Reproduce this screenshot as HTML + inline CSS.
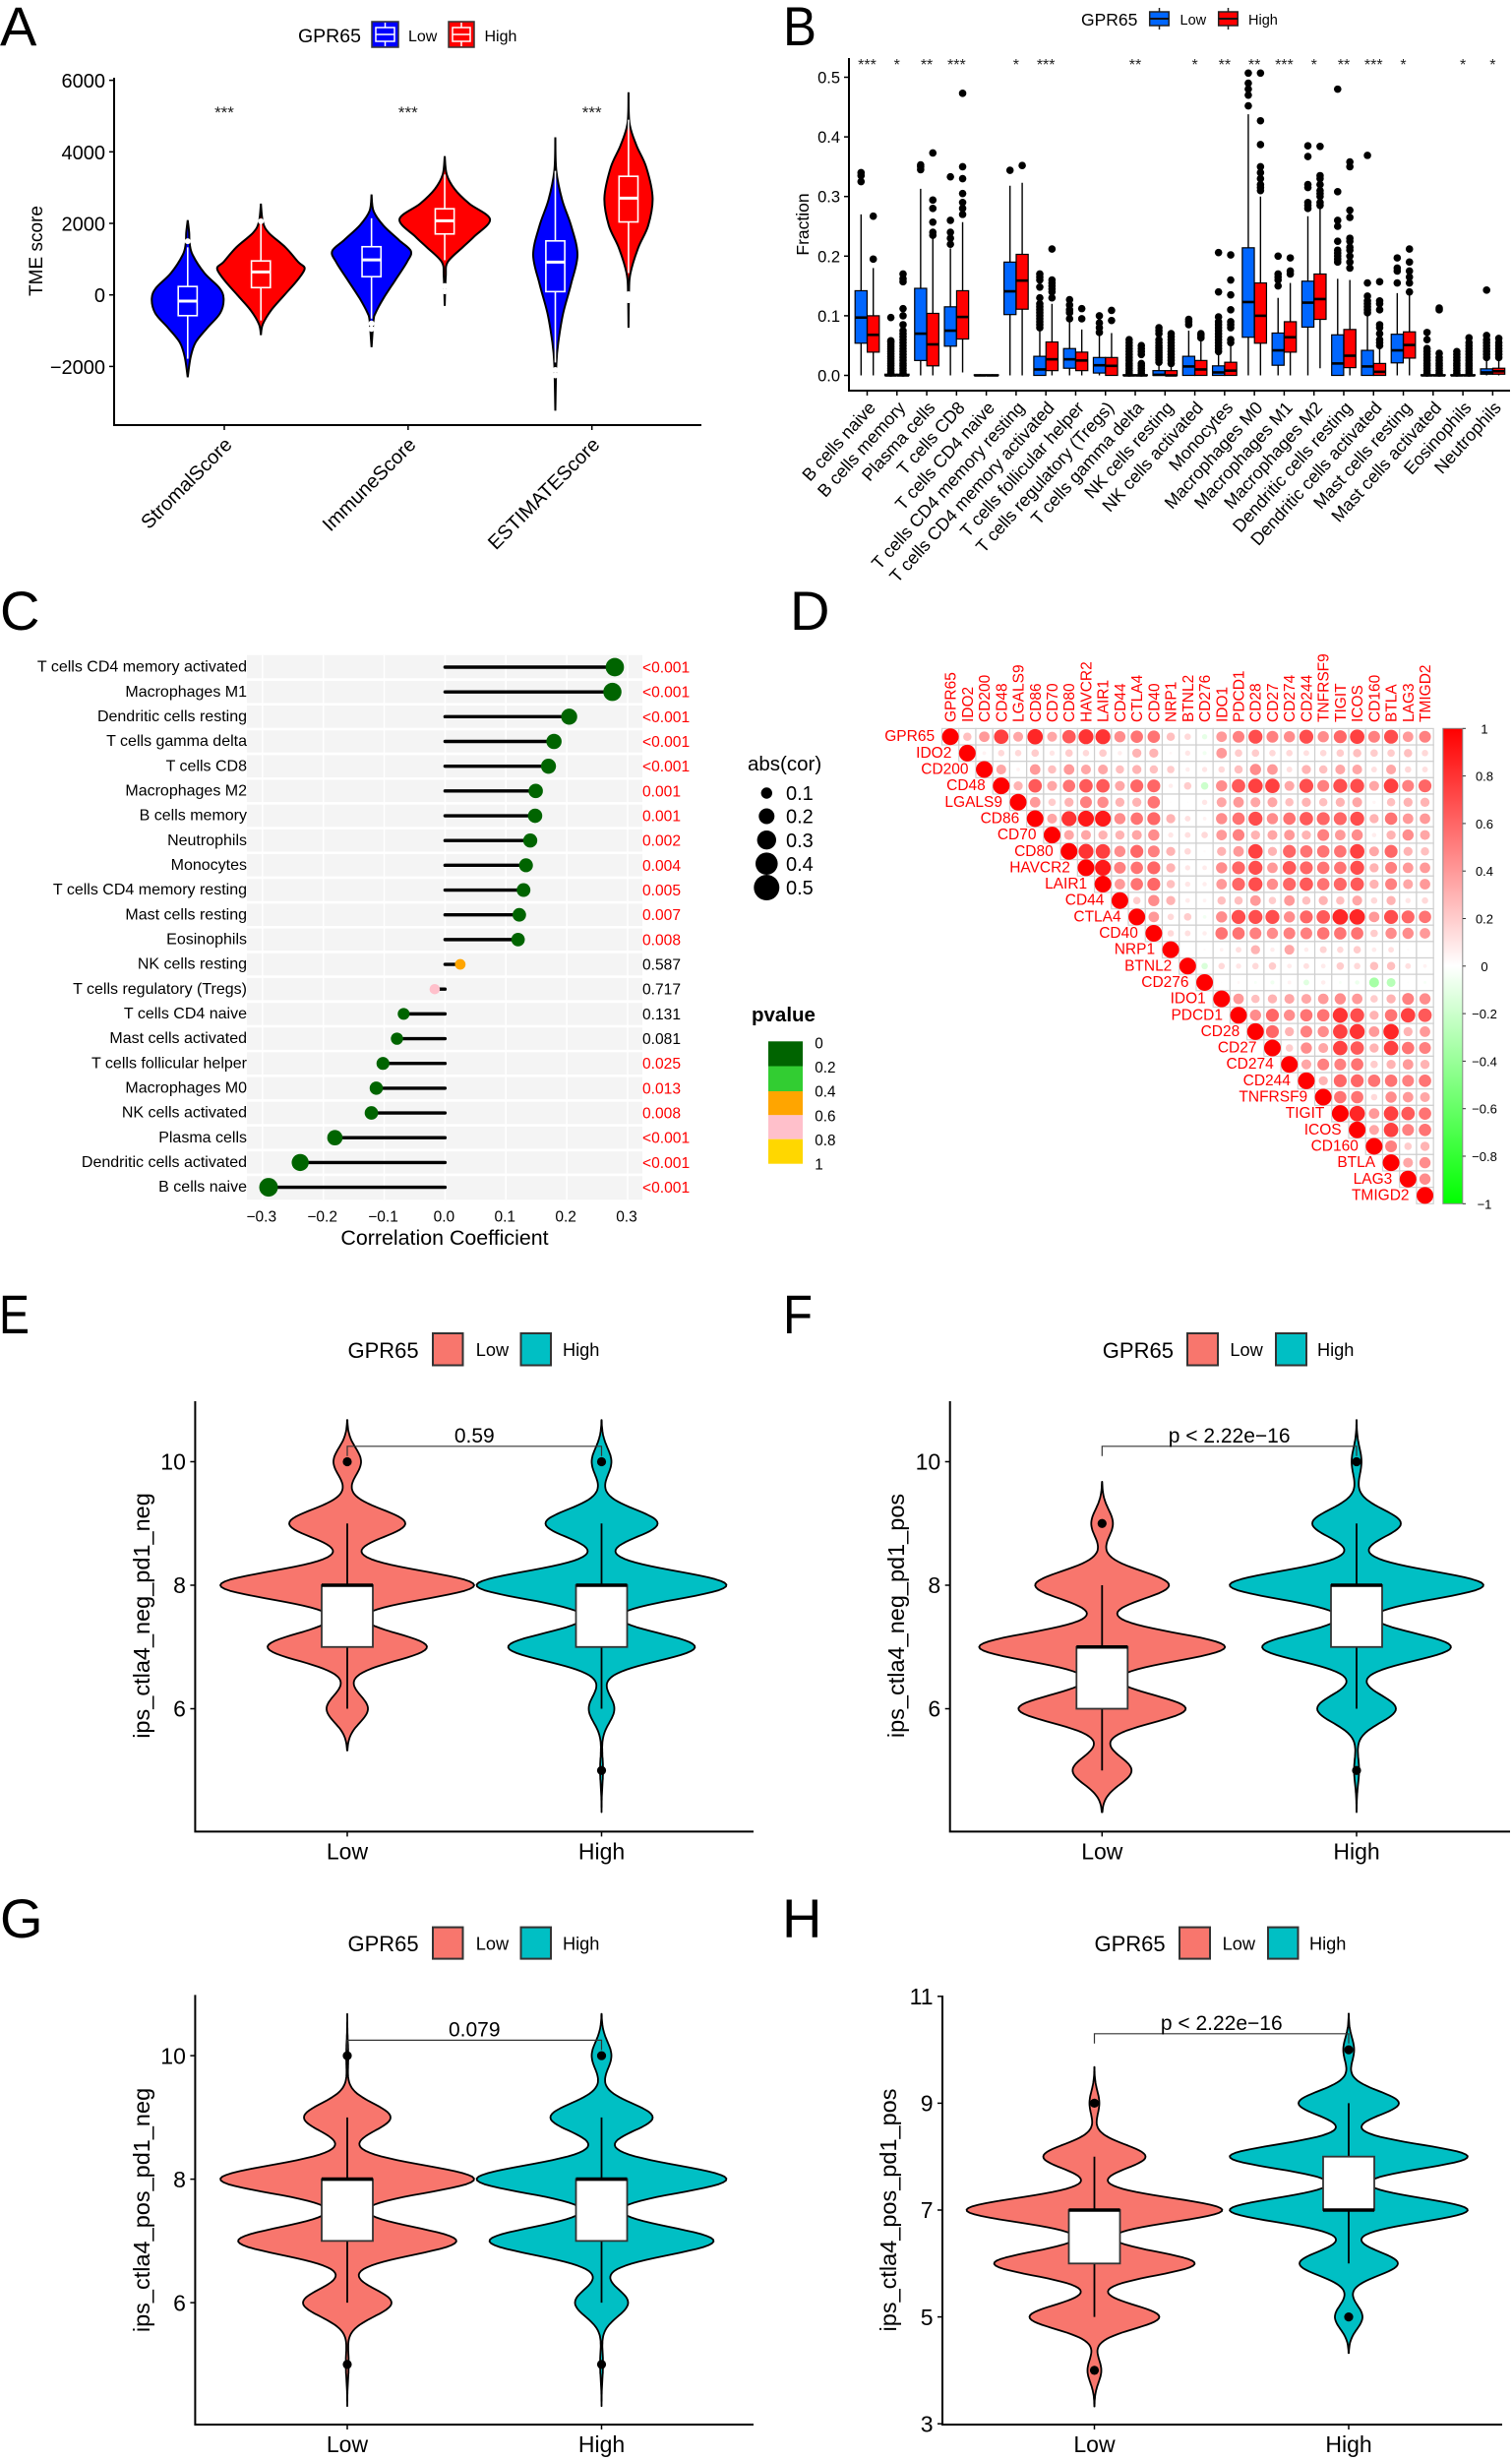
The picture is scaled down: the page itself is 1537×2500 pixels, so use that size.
<!DOCTYPE html>
<html lang="en">
<head>
<meta charset="utf-8">
<title>GPR65 immune figure</title>
<style>
html,body{margin:0;padding:0;background:#fff;}
svg{display:block;font-family:"Liberation Sans",Arial,sans-serif;}
.letter{font-size:56px;}
</style>
</head>
<body>
<svg id="chart" width="1537" height="2500" viewBox="0 0 1537 2500" xmlns="http://www.w3.org/2000/svg">
<defs>
<linearGradient id="corrGrad" x1="0" y1="0" x2="0" y2="1">
<stop offset="0" stop-color="#ff0000"/><stop offset="0.5" stop-color="#ffffff"/><stop offset="1" stop-color="#00ff00"/>
</linearGradient>
</defs>
<rect x="0" y="0" width="1537" height="2500" fill="#fff"/>

<!-- panel letters -->
<text class="letter" x="0" y="46">A</text>
<text class="letter" x="796" y="46" textLength="34" lengthAdjust="spacingAndGlyphs">B</text>
<text class="letter" x="0" y="640">C</text>
<text class="letter" x="803" y="640">D</text>
<text class="letter" x="-1" y="1355" textLength="31" lengthAdjust="spacingAndGlyphs">E</text>
<text class="letter" x="796" y="1355" textLength="30" lengthAdjust="spacingAndGlyphs">F</text>
<text class="letter" x="0" y="1969">G</text>
<text class="letter" x="795" y="1969">H</text>

<!-- panel A static -->
<g>
<text x="303" y="43" font-size="19.5">GPR65</text>
<rect x="378" y="22" width="27" height="26" fill="#0000ff" stroke="#333" stroke-width="1.5"/>
<path d="M391.5 23V28M391.5 42V47M382 28H401V42H382ZM382 35H401" fill="none" stroke="#fff" stroke-width="1.5"/>
<text x="415" y="42" font-size="16">Low</text>
<rect x="456" y="22" width="26" height="26" fill="#ff0000" stroke="#333" stroke-width="1.5"/>
<path d="M469 23V28M469 42V47M460 28H478V42H460ZM460 35H478" fill="none" stroke="#fff" stroke-width="1.5"/>
<text x="492.500" y="42" font-size="16">High</text>
</g>
<text transform="translate(43,255) rotate(-90)" text-anchor="middle" font-size="19">TME score</text>

<!-- panel B static -->
<g>
<text x="1099" y="26" font-size="17.500">GPR65</text>
<path d="M1178.500 8V30" stroke="#222" stroke-width="1.5"/>
<rect x="1168.700" y="12" width="19.500" height="14" fill="#0066ff" stroke="#222" stroke-width="1.5"/>
<path d="M1168.700 19H1188.200" stroke="#111" stroke-width="2"/>
<text x="1199.500" y="25" font-size="14.500">Low</text>
<path d="M1248.500 8V30" stroke="#222" stroke-width="1.5"/>
<rect x="1238.700" y="12" width="19.500" height="14" fill="#ff0000" stroke="#222" stroke-width="1.5"/>
<path d="M1238.700 19H1258.200" stroke="#111" stroke-width="2"/>
<text x="1269" y="25" font-size="14.500">High</text>
</g>
<text transform="translate(822,228) rotate(-90)" text-anchor="middle" font-size="17.500">Fraction</text>

<!-- panel C static -->
<text x="452" y="1265" text-anchor="middle" font-size="21.400">Correlation Coefficient</text>
<g>
<text x="760" y="783" font-size="20.500">abs(cor)</text>
<circle cx="779.300" cy="806" r="5.700" fill="#000"/>
<circle cx="779.300" cy="829.500" r="8" fill="#000"/>
<circle cx="779.300" cy="853.700" r="9.700" fill="#000"/>
<circle cx="779.300" cy="877.700" r="11.300" fill="#000"/>
<circle cx="779.300" cy="902" r="13" fill="#000"/>
<text x="799" y="813" font-size="20">0.1</text>
<text x="799" y="836.500" font-size="20">0.2</text>
<text x="799" y="861" font-size="20">0.3</text>
<text x="799" y="885" font-size="20">0.4</text>
<text x="799" y="909" font-size="20">0.5</text>
</g>
<g>
<text x="764" y="1038" font-size="20.500" font-weight="bold">pvalue</text>
<rect x="781" y="1058.300" width="35" height="25.200" fill="#006400"/>
<rect x="781" y="1083.500" width="35" height="25.500" fill="#32cd32"/>
<rect x="781" y="1109" width="35" height="24.300" fill="#ffa500"/>
<rect x="781" y="1133.300" width="35" height="24.400" fill="#ffc0cb"/>
<rect x="781" y="1157.700" width="35" height="25" fill="#ffd700"/>
<text x="828.300" y="1065.500" font-size="15.300">0</text>
<text x="828.300" y="1090" font-size="15.300">0.2</text>
<text x="828.300" y="1114.500" font-size="15.300">0.4</text>
<text x="828.300" y="1139.500" font-size="15.300">0.6</text>
<text x="828.300" y="1164" font-size="15.300">0.8</text>
<text x="828.300" y="1188.500" font-size="15.300">1</text>
</g>

<!-- panel D colourbar -->
<rect x="1466.800" y="740.300" width="20" height="483" fill="url(#corrGrad)" stroke="#888" stroke-width="1"/>

<!-- panels E-H legends and titles -->
<g>
<text x="353.500" y="1380" font-size="22">GPR65</text>
<rect x="440" y="1355" width="30.500" height="32.500" fill="#F8766D" stroke="#333" stroke-width="2"/>
<text x="483.800" y="1378" font-size="18.200">Low</text>
<rect x="529.500" y="1355" width="30.500" height="32.500" fill="#00BFC4" stroke="#333" stroke-width="2"/>
<text x="572" y="1378" font-size="18.200">High</text>
</g>
<text transform="translate(152,1642) rotate(-90)" text-anchor="middle" font-size="23.500">ips_ctla4_neg_pd1_neg</text>

<g>
<text x="1120.800" y="1380" font-size="22">GPR65</text>
<rect x="1207" y="1355" width="31" height="32.500" fill="#F8766D" stroke="#333" stroke-width="2"/>
<text x="1250.400" y="1378" font-size="18.200">Low</text>
<rect x="1297" y="1355" width="31" height="32.500" fill="#00BFC4" stroke="#333" stroke-width="2"/>
<text x="1339" y="1378" font-size="18.200">High</text>
</g>
<text transform="translate(919,1642) rotate(-90)" text-anchor="middle" font-size="23.500">ips_ctla4_neg_pd1_pos</text>

<g>
<text x="353.500" y="1983" font-size="22">GPR65</text>
<rect x="440" y="1958.600" width="30.500" height="32" fill="#F8766D" stroke="#333" stroke-width="2"/>
<text x="483.800" y="1981.500" font-size="18.200">Low</text>
<rect x="529.500" y="1958.600" width="30.500" height="32" fill="#00BFC4" stroke="#333" stroke-width="2"/>
<text x="572" y="1981.500" font-size="18.200">High</text>
</g>
<text transform="translate(152,2246) rotate(-90)" text-anchor="middle" font-size="23.500">ips_ctla4_pos_pd1_neg</text>

<g>
<text x="1112.500" y="1983" font-size="22">GPR65</text>
<rect x="1199" y="1958.600" width="31" height="32" fill="#F8766D" stroke="#333" stroke-width="2"/>
<text x="1242.600" y="1981.500" font-size="18.200">Low</text>
<rect x="1289" y="1958.600" width="30.500" height="32" fill="#00BFC4" stroke="#333" stroke-width="2"/>
<text x="1331" y="1981.500" font-size="18.200">High</text>
</g>
<text transform="translate(911,2246) rotate(-90)" text-anchor="middle" font-size="23.500">ips_ctla4_pos_pd1_pos</text>

<g id="plots"></g>
</svg>

<script>
/* ---------- PANEL A DATA ---------- */
const tmeCategories = ['StromalScore','ImmuneScore','ESTIMATEScore'];
const tmeTicks = [-2000,0,2000,4000,6000];
const tmeStars = ['***','***','***'];
const stromalLowValues = [2090,1735,1430,1120,610,200,-100,-510,-920,-1330,-1735,-2300];
const stromalLowDensity = [0,1.5,2,5,17,32,36.5,33,20,8,3,0];
const stromalHighValues = [2550,2040,1735,1330,920,735,408,0,-408,-816,-1120];
const stromalHighDensity = [0,2,8,25,38,44.5,37,24,11,2,0];
const immuneLowValues = [2806,2347,1940,1530,1224,918,408,-100,-510,-714,-1460];
const immuneLowDensity = [0,2,12,28,40,36,24,12,4,2,0];
const immuneHighValues = [3880,3370,2960,2550,2112,1633,1327,918,510,-306];
const immuneHighDensity = [0,2,10,25,46,30,18,3,1,0];
const estimateLowValues = [4408,3470,2650,1940,1122,306,-510,-1327,-1940,-3235];
const estimateLowDensity = [0,1,7,16,22.5,16,8,3,1,0];
const estimateHighValues = [5663,4800,4184,3571,2704,1940,1327,612,100,-918];
const estimateHighDensity = [0,1,8,18,24.5,20,10,2,0.5,0];
/* box = whiskerLow, q1, median, q3, whiskerHigh */
const stromalLowBox = [-1785,-580,-173,235,1330];
const stromalHighBox = [-714,204,643,950,2020];
const immuneLowBox = [-663,510,980,1347,2143];
const immuneHighBox = [970,1704,2071,2408,3367];
const estimateLowBox = [-1890,92,918,1510,3470];
const estimateHighBox = [612,2040,2704,3316,4898];
/* white outlier dots sitting on the violin tails */
const stromalLowOutliers = [1500];
const stromalHighOutliers = [2060];
const immuneLowOutliers = [-800,-950];
const immuneHighOutliers = [250,100];
const estimateLowOutliers = [-2100,-2250];
const estimateHighOutliers = [20,-60,-150];

/* ---------- PANEL B DATA ---------- */
const cellTypes = ['B cells naive','B cells memory','Plasma cells','T cells CD8','T cells CD4 naive','T cells CD4 memory resting','T cells CD4 memory activated','T cells follicular helper','T cells regulatory (Tregs)','T cells gamma delta','NK cells resting','NK cells activated','Monocytes','Macrophages M0','Macrophages M1','Macrophages M2','Dendritic cells resting','Dendritic cells activated','Mast cells resting','Mast cells activated','Eosinophils','Neutrophils'];
const fractionTicks = [0,0.1,0.2,0.3,0.4,0.5];
const fractionStars = ['***','*','**','***','','*','***','','','**','','*','**','**','***','*','**','***','*','','*','*'];
const lowWhiskerMin = [0,0,0,0,0,0,0,0,0,0,0,0,0,0,0,0,0,0,0,0,0,0];
const lowQ1 = [.054,0,.025,.049,0,.102,0,.012,.004,0,0,0,0,.064,.017,.081,0,0,.021,0,0,.002];
const lowMedian = [.097,0,.07,.075,0,.141,.01,.027,.017,0,.001,.015,.005,.123,.042,.122,.02,.015,.042,0,0,.005];
const lowQ3 = [.142,.002,.146,.115,.001,.19,.032,.045,.03,.001,.008,.032,.016,.214,.071,.158,.068,.042,.069,.001,.001,.011];
const lowWhiskerMax = [.27,.005,.313,.213,.002,.318,.075,.09,.07,.002,.02,.075,.038,.438,.13,.267,.162,.1,.138,.002,.002,.025];
const lowOutliers = [
[.325,.335,.34],
[.004,.008,.012,.016,.02,.024,.028,.032,.036,.04,.044,.048,.052,.056,.058,.097],
[.345,.35,.353],
[.22,.23,.24,.26,.333],
[],
[.344],
[.08,.085,.09,.095,.1,.105,.11,.115,.12,.13,.148,.16,.165,.17],
[.095,.105,.11,.118,.127],
[.072,.08,.088,.1],
[.004,.008,.012,.016,.02,.025,.03,.035,.04,.045,.05,.055,.06],
[.022,.026,.03,.034,.038,.042,.046,.05,.055,.06,.07,.075,.08],
[.085,.09,.094],
[.04,.045,.05,.055,.06,.065,.07,.075,.08,.085,.09,.098,.14,.206],
[.452,.47,.48,.49,.507],
[.15,.16,.165,.17,.2],
[.28,.285,.29,.315,.32,.367,.385],
[.19,.195,.2,.205,.21,.225,.25,.26,.308,.48],
[.105,.11,.115,.12,.125,.133,.155,.369],
[.155,.175,.18,.197],
[.004,.008,.012,.016,.02,.025,.03,.035,.04,.045,.06,.072],
[.004,.008,.012,.016,.02,.025,.03,.035,.04],
[.03,.035,.04,.045,.05,.055,.06,.067,.143]
];
const highWhiskerMin = [0,0,0,.005,0,0,0,0,0,0,0,0,0,0,0,.012,0,0,0,0,0,0];
const highQ1 = [.039,0,.016,.061,0,.111,.008,.008,0,0,0,0,0,.054,.039,.094,.013,0,.029,0,0,.002];
const highMedian = [.068,0,.052,.098,0,.159,.027,.025,.016,0,0,.01,.008,.1,.064,.128,.033,.006,.051,0,0,.007];
const highQ3 = [.1,.002,.104,.142,.001,.203,.056,.039,.03,.001,.008,.025,.022,.155,.09,.17,.077,.02,.073,.001,.001,.012];
const highWhiskerMax = [.18,.006,.23,.257,.002,.323,.12,.077,.071,.002,.018,.06,.05,.3,.155,.28,.16,.045,.137,.002,.002,.027];
const highOutliers = [
[.195,.267],
[.004,.008,.012,.016,.02,.025,.03,.035,.04,.045,.05,.055,.06,.065,.07,.075,.085,.1,.112,.157,.162,.17],
[.235,.24,.257,.28,.294,.373],
[.27,.28,.29,.305,.33,.35,.473],
[],
[.352],
[.13,.14,.145,.15,.155,.16,.212],
[.095,.112],
[.092,.109],
[.004,.008,.012,.016,.02,.035,.04,.045,.05],
[.02,.025,.03,.035,.04,.045,.05,.055,.06,.065,.07],
[.063,.067,.07],
[.055,.06,.08,.085,.09,.11,.135,.16,.202],
[.31,.315,.32,.33,.34,.35,.387,.427,.507],
[.17,.175,.197],
[.285,.29,.3,.305,.31,.32,.33,.335,.384],
[.18,.19,.2,.21,.215,.225,.23,.265,.277,.35,.358],
[.05,.055,.06,.07,.08,.085,.11,.12,.125,.157],
[.14,.155,.165,.175,.19,.212],
[.004,.008,.012,.016,.02,.025,.03,.037,.11,.113],
[.004,.008,.012,.016,.02,.025,.03,.035,.04,.045,.05,.055,.063],
[.03,.035,.04,.045,.05,.055,.062]
];

/* ---------- PANEL C DATA ---------- */
const corrCells = ['T cells CD4 memory activated','Macrophages M1','Dendritic cells resting','T cells gamma delta','T cells CD8','Macrophages M2','B cells memory','Neutrophils','Monocytes','T cells CD4 memory resting','Mast cells resting','Eosinophils','NK cells resting','T cells regulatory (Tregs)','T cells CD4 naive','Mast cells activated','T cells follicular helper','Macrophages M0','NK cells activated','Plasma cells','Dendritic cells activated','B cells naive'];
const corrCoefficients = [.279,.275,.204,.179,.170,.149,.148,.140,.133,.129,.122,.120,.025,-.017,-.068,-.079,-.102,-.113,-.121,-.181,-.238,-.290];
const corrPValues = ['<0.001','<0.001','<0.001','<0.001','<0.001','0.001','0.001','0.002','0.004','0.005','0.007','0.008','0.587','0.717','0.131','0.081','0.025','0.013','0.008','<0.001','<0.001','<0.001'];
const corrTicks = [-0.3,-0.2,-0.1,0,0.1,0.2,0.3];

/* ---------- PANEL D DATA ---------- */
const genes = ['GPR65','IDO2','CD200','CD48','LGALS9','CD86','CD70','CD80','HAVCR2','LAIR1','CD44','CTLA4','CD40','NRP1','BTNL2','CD276','IDO1','PDCD1','CD28','CD27','CD274','CD244','TNFRSF9','TIGIT','ICOS','CD160','BTLA','LAG3','TMIGD2'];
const corrColorTicks = [1,0.8,0.6,0.4,0.2,0,-0.2,-0.4,-0.6,-0.8,-1];
/* upper triangle of the matrix, diagonal first in every row */
const geneCorr = [
[1,.25,.4,.75,.35,.85,.35,.65,.8,.8,.45,.55,.55,.25,.15,-.1,.4,.5,.7,.5,.45,.7,.45,.6,.75,.5,.7,.4,.5],
[1,.05,.15,.15,.2,.1,.2,.15,.2,.07,.3,.3,.03,.1,-.06,.4,.2,.2,.15,.15,.12,.15,.2,.25,.2,.2,.25,.15],
[1,.35,.05,.4,.25,.4,.35,.35,.25,.3,.25,.2,.07,.1,.15,.25,.45,.4,.12,.3,.25,.35,.35,.12,.35,.15,.12],
[1,.3,.65,.35,.55,.65,.65,.35,.6,.6,.07,.2,-.2,.45,.65,.75,.75,.35,.7,.5,.7,.7,.35,.75,.5,.6],
[1,.4,.2,.3,.5,.45,.3,.3,.55,.01,.01,.1,.35,.4,.35,.35,.25,.3,.25,.3,.35,.04,.25,.3,.3],
[1,.35,.8,.9,.9,.45,.55,.6,.3,.12,.05,.45,.55,.7,.45,.55,.65,.6,.6,.7,.3,.55,.4,.4],
[1,.35,.35,.3,.3,.35,.45,.1,.12,.15,.4,.5,.3,.35,.4,.3,.5,.4,.45,.07,.3,.45,.35],
[1,.8,.75,.45,.6,.5,.3,.15,.02,.3,.4,.75,.3,.6,.55,.55,.55,.75,.35,.6,.3,.25],
[1,.9,.5,.55,.6,.3,.1,.08,.45,.6,.7,.4,.65,.6,.55,.55,.7,.3,.5,.4,.4],
[1,.4,.55,.6,.25,.1,.07,.4,.6,.7,.45,.6,.65,.55,.6,.65,.3,.5,.35,.4],
[1,.2,.45,.3,.08,.05,.25,.25,.4,.2,.4,.25,.3,.25,.35,.15,.3,.1,.15],
[1,.4,.15,.2,-.05,.45,.7,.7,.7,.45,.6,.65,.85,.85,.4,.7,.6,.55],
[1,.15,.12,.07,.55,.55,.5,.45,.5,.5,.55,.55,.55,.2,.45,.45,.4],
[1,0,.02,.05,.12,.3,.07,.35,.07,.17,.15,.2,.08,.12,.02,0],
[1,-.15,.15,.1,.15,.2,.08,.12,.08,.2,.15,.25,.25,.12,.05],
[1,.01,.03,-.03,-.06,.05,-.12,.07,-.03,-.07,-.35,-.28,-.01,-.03],
[1,.4,.25,.3,.35,.35,.4,.45,.4,.2,.3,.5,.45],
[1,.45,.6,.45,.55,.55,.8,.7,.3,.55,.75,.65],
[1,.6,.3,.5,.45,.75,.8,.4,.85,.3,.4],
[1,.2,.45,.35,.75,.65,.3,.75,.55,.5],
[1,.35,.5,.5,.55,.2,.3,.4,.3],
[1,.3,.6,.6,.55,.55,.5,.55],
[1,.55,.55,.15,.45,.4,.35],
[1,.85,.4,.75,.65,.55],
[1,.35,.75,.5,.55],
[1,.5,.2,.3],
[1,.35,.45],
[1,.45],
[1]
];

/* ---------- PANELS E-H DATA ---------- */
const groupLabels = ['Low','High'];
const scoreLevels = [4,5,6,7,8,9,10];
const scoreBandwidth = 0.225;
const eLowDensity = [0,0,21,81,129,59,14];
const eHighDensity = [0,1.5,13,95,127,57,10];
const fLowDensity = [0,30,85,125,68,11,0];
const fHighDensity = [0,2.5,40,96,129,45,5];
const gLowDensity = [0,1.5,45,111,129,44,1];
const gHighDensity = [0,1.5,27,114,127,52,10];
const hLowDensity = [7,66,102,130,52,5,0];
const hHighDensity = [0,14,50,121,121,51,5.5];
const eLowBox = [6,7,8,8,9];
const eHighBox = [6,7,8,8,9];
const fLowBox = [5,6,7,7,8];
const fHighBox = [6,7,8,8,9];
const gLowBox = [6,7,8,8,9];
const gHighBox = [6,7,8,8,9];
const hLowBox = [5,6,7,7,8];
const hHighBox = [6,7,7,8,9];
const eLowOutliers = [10];
const eHighOutliers = [10,5];
const fLowOutliers = [9];
const fHighOutliers = [10,5];
const gLowOutliers = [10,5];
const gHighOutliers = [10,5];
const hLowOutliers = [9,4];
const hHighOutliers = [10,5];
const eTicks = [6,8,10];
const fTicks = [6,8,10];
const gTicks = [6,8,10];
const hTicks = [3,5,7,9,11];
const ePLabel = '0.59';
const fPLabel = 'p < 2.22e\u221216';
const gPLabel = '0.079';
const hPLabel = 'p < 2.22e\u221216';

/* ---------- DRAWING ---------- */
const NS = 'http://www.w3.org/2000/svg';
const plots = document.getElementById('plots');

function mk(parent, tag, attrs, name) {
  const el = document.createElementNS(NS, tag);
  for (const k in attrs) el.setAttribute(k, attrs[k]);
  
  
  parent.appendChild(el);
  return el;
}
function txt(parent, str, attrs, name) {
  const el = mk(parent, 'text', attrs, name);
  el.textContent = str;
  return el;
}
function group(name) { return mk(plots, 'g', {}, name); }
function fmtMinus(v, digits) {
  const s = Math.abs(v).toFixed(digits);
  return (v < 0 ? '\u2212' : '') + s;
}
function smoothPath(pts, start) {
  let d = start ? 'M' + pts[0][0].toFixed(1) + ' ' + pts[0][1].toFixed(1) : '';
  for (let i = 0; i < pts.length - 1; i++) {
    const p0 = pts[Math.max(i - 1, 0)], p1 = pts[i], p2 = pts[i + 1], p3 = pts[Math.min(i + 2, pts.length - 1)];
    const c1x = p1[0] + (p2[0] - p0[0]) / 6, c1y = p1[1] + (p2[1] - p0[1]) / 6;
    const c2x = p2[0] - (p3[0] - p1[0]) / 6, c2y = p2[1] - (p3[1] - p1[1]) / 6;
    d += 'C' + c1x.toFixed(1) + ' ' + c1y.toFixed(1) + ' ' + c2x.toFixed(1) + ' ' + c2y.toFixed(1) + ' ' + p2[0].toFixed(1) + ' ' + p2[1].toFixed(1);
  }
  return d;
}
function axesL(g, left, top, bottom, right, w) {
  mk(g, 'path', {d: 'M' + left + ' ' + top + 'V' + bottom + 'H' + right, fill: 'none', stroke: '#000', 'stroke-width': w}, 'axis-lines');
}

/* --- Panel A --- */
(function () {
  const g = group('panel-a-plot');
  const yA = v => 299.7 - v * 0.03635;
  const xA = i => 228 + 186.85 * i;
  const off = 37.2;
  axesL(g, 116, 79, 432, 713, 2);
  tmeTicks.forEach(t => {
    mk(g, 'line', {x1: 111, x2: 116, y1: yA(t), y2: yA(t), stroke: '#000', 'stroke-width': 1.5}, 'y-tick');
    txt(g, fmtMinus(t, 0), {x: 107, y: yA(t) + 7.5, 'text-anchor': 'end', 'font-size': 20}, 'y-tick-label');
  });
  const violins = [
    [0, -1, stromalLowValues, stromalLowDensity, stromalLowBox, '#0000ff', stromalLowOutliers],
    [0, 1, stromalHighValues, stromalHighDensity, stromalHighBox, '#ff0000', stromalHighOutliers],
    [1, -1, immuneLowValues, immuneLowDensity, immuneLowBox, '#0000ff', immuneLowOutliers],
    [1, 1, immuneHighValues, immuneHighDensity, immuneHighBox, '#ff0000', immuneHighOutliers],
    [2, -1, estimateLowValues, estimateLowDensity, estimateLowBox, '#0000ff', estimateLowOutliers],
    [2, 1, estimateHighValues, estimateHighDensity, estimateHighBox, '#ff0000', estimateHighOutliers]
  ];
  violins.forEach(vl => {
    const cx = xA(vl[0]) + vl[1] * off;
    const right = vl[2].map((v, k) => [cx + vl[3][k], yA(v)]);
    const left = vl[2].map((v, k) => [cx - vl[3][k], yA(v)]).reverse();
    const d = smoothPath(right, true) + smoothPath(left, false) + 'Z';
    mk(g, 'path', {d: d, fill: vl[5], stroke: '#000', 'stroke-width': 2}, 'violin-' + tmeCategories[vl[0]] + (vl[1] < 0 ? '-low' : '-high'));
    const b = vl[4];
    mk(g, 'line', {x1: cx, x2: cx, y1: yA(b[0]), y2: yA(b[4]), stroke: '#fff', 'stroke-width': 1.6}, 'whisker');
    mk(g, 'rect', {x: cx - 9.6, y: yA(b[3]), width: 19.2, height: yA(b[1]) - yA(b[3]), fill: vl[5], stroke: '#fff', 'stroke-width': 1.6}, 'box');
    mk(g, 'line', {x1: cx - 9.6, x2: cx + 9.6, y1: yA(b[2]), y2: yA(b[2]), stroke: '#fff', 'stroke-width': 3}, 'median');
    vl[6].forEach(o => mk(g, 'circle', {cx: cx, cy: yA(o), r: 3, fill: '#fff'}, 'outlier'));
  });
  tmeCategories.forEach((c, i) => {
    mk(g, 'line', {x1: xA(i), x2: xA(i), y1: 432, y2: 437, stroke: '#000', 'stroke-width': 1.5}, 'x-tick');
    txt(g, tmeStars[i], {x: xA(i), y: 120, 'text-anchor': 'middle', 'font-size': 17, fill: '#222'}, 'significance-stars');
    txt(g, c, {transform: 'translate(' + (xA(i) + 9) + ',453) rotate(-45)', 'text-anchor': 'end', 'font-size': 20}, 'x-tick-label');
  });
})();

/* --- Panel B --- */
(function () {
  const g = group('panel-b-plot');
  const yB = v => 381.5 - v * 606;
  const xB = i => 881.5 + 30.28 * i;
  axesL(g, 863, 59, 397, 1535, 2);
  fractionTicks.forEach(t => {
    mk(g, 'line', {x1: 858, x2: 863, y1: yB(t), y2: yB(t), stroke: '#000', 'stroke-width': 1.5}, 'y-tick');
    txt(g, t.toFixed(1), {x: 854, y: yB(t) + 6, 'text-anchor': 'end', 'font-size': 16.5}, 'y-tick-label');
  });
  function box(cx, lo, q1, med, q3, hi, outs, fill, label) {
    mk(g, 'line', {x1: cx, x2: cx, y1: yB(lo), y2: yB(hi), stroke: '#000', 'stroke-width': 1.4}, 'whisker-' + label);
    mk(g, 'rect', {x: cx - 6.1, y: yB(q3), width: 12.2, height: Math.max(yB(q1) - yB(q3), 0.5), fill: fill, stroke: '#000', 'stroke-width': 1.2}, 'box-' + label);
    mk(g, 'line', {x1: cx - 6.1, x2: cx + 6.1, y1: yB(med), y2: yB(med), stroke: '#000', 'stroke-width': 2.6}, 'median-' + label);
    outs.forEach(o => mk(g, 'circle', {cx: cx, cy: yB(o), r: 3.8, fill: '#000'}, 'outlier-' + label));
  }
  cellTypes.forEach((c, i) => {
    const x = xB(i);
    box(x - 6.2, lowWhiskerMin[i], lowQ1[i], lowMedian[i], lowQ3[i], lowWhiskerMax[i], lowOutliers[i], '#0066ff', c + '-low');
    box(x + 6.2, highWhiskerMin[i], highQ1[i], highMedian[i], highQ3[i], highWhiskerMax[i], highOutliers[i], '#ff0000', c + '-high');
    mk(g, 'line', {x1: x, x2: x, y1: 397, y2: 402, stroke: '#000', 'stroke-width': 1.5}, 'x-tick');
    if (fractionStars[i]) txt(g, fractionStars[i], {x: x, y: 71, 'text-anchor': 'middle', 'font-size': 16, fill: '#222'}, 'significance-stars');
    txt(g, c, {transform: 'translate(' + (x + 9.5) + ',415) rotate(-48)', 'text-anchor': 'end', 'font-size': 18}, 'x-tick-label');
  });
})();

/* --- Panel C --- */
(function () {
  const g = group('panel-c-plot');
  const xC = v => 452.4 + v * 618.6;
  const yC = i => 678 + 25.17 * i;
  mk(g, 'rect', {x: 251, y: 665.7, width: 402, height: 553.5, fill: '#f4f4f4'}, 'plot-background');
  corrTicks.forEach(t => {
    mk(g, 'line', {x1: xC(t), x2: xC(t), y1: 665.7, y2: 1219, stroke: '#fff', 'stroke-width': 1.5}, 'grid-line-vertical');
    txt(g, fmtMinus(t, 1), {x: xC(t) - 1, y: 1241.5, 'text-anchor': 'middle', 'font-size': 15.5}, 'x-tick-label');
  });
  corrCells.forEach((c, i) => {
    if (i > 0) mk(g, 'line', {x1: 251, x2: 653, y1: yC(i) - 12.6, y2: yC(i) - 12.6, stroke: '#fff', 'stroke-width': 2.6}, 'row-gap');
  });
  corrCells.forEach((c, i) => {
    const v = corrCoefficients[i];
    const p = corrPValues[i];
    const pNum = p.charAt(0) === '<' ? 0 : parseFloat(p);
    const col = pNum < 0.4 ? '#006400' : pNum < 0.6 ? '#ffa500' : pNum < 0.8 ? '#ffc0cb' : '#ffd700';
    mk(g, 'line', {x1: xC(0), x2: xC(v), y1: yC(i), y2: yC(i), stroke: '#000', 'stroke-width': 3.4, 'stroke-linecap': 'round'}, 'lollipop-stem');
    mk(g, 'circle', {cx: xC(v), cy: yC(i), r: 5 + 15.5 * Math.abs(v), fill: col}, 'lollipop-dot');
    txt(g, c, {x: 251, y: yC(i) + 4.6, 'text-anchor': 'end', 'font-size': 16}, 'row-label');
    txt(g, p, {x: 653, y: yC(i) + 5.5, 'font-size': 15.6, fill: pNum < 0.05 ? '#ff0000' : '#000'}, 'p-value-label');
  });
})();

/* --- Panel D --- */
(function () {
  const g = group('panel-d-plot');
  const xD = j => 966.1 + 17.23 * j;
  const yD = i => 748.7 + 16.65 * i;
  const yBar = v => 1223.3 - (v + 1) / 2 * 483;
  genes.forEach((name, j) => {
    txt(g, name, {transform: 'translate(' + (xD(j) + 5.5) + ',734) rotate(-90)', 'font-size': 15.5, fill: '#ff0000'}, 'column-label');
    txt(g, name, {x: xD(j) - 16, y: yD(j) + 4.5, 'text-anchor': 'end', 'font-size': 15.5, fill: '#ff0000'}, 'row-label');
  });
  geneCorr.forEach((row, i) => {
    row.forEach((v, k) => {
      const j = i + k;
      mk(g, 'rect', {x: xD(j) - 8.6, y: yD(i) - 8.3, width: 17.23, height: 16.65, fill: '#fff', stroke: '#cfcfcf', 'stroke-width': 1.2}, 'cell-frame');
    });
  });
  geneCorr.forEach((row, i) => {
    row.forEach((v, k) => {
      const j = i + k;
      const a = Math.abs(v);
      const shade = Math.round(255 * (1 - a));
      const col = v >= 0 ? 'rgb(255,' + shade + ',' + shade + ')' : 'rgb(' + shade + ',255,' + shade + ')';
      if (a > 0) mk(g, 'circle', {cx: xD(j), cy: yD(i), r: 8.5 * Math.sqrt(a), fill: col}, 'correlation-circle');
    });
  });
  corrColorTicks.forEach(t => {
    mk(g, 'line', {x1: 1486.8, x2: 1490, y1: yBar(t), y2: yBar(t), stroke: '#333', 'stroke-width': 1}, 'colorbar-tick');
    txt(g, t === 0 || Math.abs(t) === 1 ? fmtMinus(t, 0) : fmtMinus(t, 1), {x: 1509, y: yBar(t) + 5, 'text-anchor': 'middle', 'font-size': 13}, 'colorbar-label');
  });
})();

/* --- Panels E-H --- */
function kdeAt(v, counts) {
  let s = 0;
  scoreLevels.forEach((lvl, k) => {
    const z = (v - lvl) / scoreBandwidth;
    s += counts[k] * Math.exp(-0.5 * z * z);
  });
  return s;
}
function violinPanel(cfg) {
  const g = group(cfg.name);
  const y = v => cfg.y0 - (v - cfg.vRef) * cfg.yScale;
  axesL(g, cfg.left, cfg.top, cfg.bottom, cfg.right, 2);
  cfg.ticks.forEach(t => {
    mk(g, 'line', {x1: cfg.left - 5, x2: cfg.left, y1: y(t), y2: y(t), stroke: '#000', 'stroke-width': 1.5}, 'y-tick');
    txt(g, String(t), {x: cfg.left - 9.5, y: y(t) + 8.2, 'text-anchor': 'end', 'font-size': 23}, 'y-tick-label');
  });
  const series = [
    [cfg.xLow, cfg.lowDensity, cfg.lowBox, cfg.lowOut, '#F8766D', 'low'],
    [cfg.xHigh, cfg.highDensity, cfg.highBox, cfg.highOut, '#00BFC4', 'high']
  ];
  series.forEach(s => {
    const cx = s[0], counts = s[1], b = s[2];
    const present = scoreLevels.filter((l, k) => counts[k] > 0);
    const vMin = Math.min.apply(null, present) - 3 * scoreBandwidth;
    const vMax = Math.max.apply(null, present) + 3 * scoreBandwidth;
    const n = Math.round((vMax - vMin) / 0.03);
    let right = '', left = '';
    for (let i = 0; i <= n; i++) {
      const v = vMax - (vMax - vMin) * i / n;
      const w = kdeAt(v, counts);
      right += (i ? 'L' : 'M') + (cx + w).toFixed(1) + ' ' + y(v).toFixed(1);
      left = 'L' + (cx - w).toFixed(1) + ' ' + y(v).toFixed(1) + left;
    }
    mk(g, 'path', {d: right + left + 'Z', fill: s[4], stroke: '#000', 'stroke-width': 1.8, 'stroke-linejoin': 'round'}, 'violin-' + s[5]);
    mk(g, 'line', {x1: cx, x2: cx, y1: y(b[0]), y2: y(b[4]), stroke: '#000', 'stroke-width': 1.8}, 'whisker-' + s[5]);
    mk(g, 'rect', {x: cx - 26, y: y(b[3]), width: 52, height: y(b[1]) - y(b[3]), fill: '#fff', stroke: '#333', 'stroke-width': 1.8}, 'box-' + s[5]);
    mk(g, 'line', {x1: cx - 26, x2: cx + 26, y1: y(b[2]), y2: y(b[2]), stroke: '#000', 'stroke-width': 3.6}, 'median-' + s[5]);
    s[3].forEach(o => mk(g, 'ellipse', {cx: cx, cy: y(o), rx: 4.6, ry: 4.6, fill: '#000'}, 'outlier-' + s[5]));
  });
  const by = y(cfg.bracket);
  mk(g, 'path', {d: 'M' + cfg.xLow + ' ' + (by + 10) + 'V' + by + 'H' + cfg.xHigh + 'V' + (by + 10), fill: 'none', stroke: '#333', 'stroke-width': 1.2}, 'significance-bracket');
  txt(g, cfg.pLabel, {x: (cfg.xLow + cfg.xHigh) / 2, y: by - 4, 'text-anchor': 'middle', 'font-size': 21}, 'p-value-label');
  [cfg.xLow, cfg.xHigh].forEach((x, i) => {
    mk(g, 'line', {x1: x, x2: x, y1: cfg.bottom, y2: cfg.bottom + 5, stroke: '#000', 'stroke-width': 1.5}, 'x-tick');
    txt(g, groupLabels[i], {x: x, y: cfg.bottom + 28, 'text-anchor': 'middle', 'font-size': 23}, 'x-tick-label');
  });
}
violinPanel({name: 'panel-e-plot', left: 198.4, right: 766, top: 1424, bottom: 1861.4, y0: 1611, vRef: 8, yScale: 62.76, xLow: 353, xHigh: 611.5, ticks: eTicks, lowDensity: eLowDensity, highDensity: eHighDensity, lowBox: eLowBox, highBox: eHighBox, lowOut: eLowOutliers, highOut: eHighOutliers, bracket: 10.25, pLabel: ePLabel});
violinPanel({name: 'panel-f-plot', left: 965.7, right: 1535, top: 1424, bottom: 1861.4, y0: 1611, vRef: 8, yScale: 62.76, xLow: 1120.3, xHigh: 1379, ticks: fTicks, lowDensity: fLowDensity, highDensity: fHighDensity, lowBox: fLowBox, highBox: fHighBox, lowOut: fLowOutliers, highOut: fHighOutliers, bracket: 10.25, pLabel: fPLabel});
violinPanel({name: 'panel-g-plot', left: 198.4, right: 766, top: 2027.4, bottom: 2464, y0: 2214.6, vRef: 8, yScale: 62.76, xLow: 353, xHigh: 611.5, ticks: gTicks, lowDensity: gLowDensity, highDensity: gHighDensity, lowBox: gLowBox, highBox: gHighBox, lowOut: gLowOutliers, highOut: gHighOutliers, bracket: 10.25, pLabel: gPLabel});
violinPanel({name: 'panel-h-plot', left: 958, right: 1527, top: 2028, bottom: 2464, y0: 2246, vRef: 7, yScale: 54.3, xLow: 1112.5, xHigh: 1371, ticks: hTicks, lowDensity: hLowDensity, highDensity: hHighDensity, lowBox: hLowBox, highBox: hHighBox, lowOut: hLowOutliers, highOut: hHighOutliers, bracket: 10.3, pLabel: hPLabel});
</script>
</body>
</html>
